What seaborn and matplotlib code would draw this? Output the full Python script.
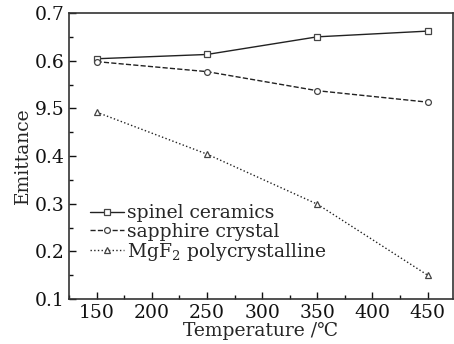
import matplotlib
matplotlib.use('Agg')
import matplotlib.pyplot as plt
import seaborn as sns
import pandas as pd
from matplotlib.ticker import MultipleLocator, FixedLocator, FixedFormatter

temperature = [150, 250, 350, 450]
spinel = [0.604, 0.613, 0.650, 0.662]
sapphire = [0.598, 0.577, 0.537, 0.513]
mgf2 = [0.492, 0.404, 0.299, 0.150]
series_names = ['spinel ceramics', 'sapphire crystal', 'MgF$_2$ polycrystalline']
y_ticks = [0.1, 0.2, 0.3, 0.4, 0.5, 0.6, 0.7]
y_tick_labels = ['0.1', '0.2', '0.3', '0.4', '9.5', '0.6', '0.7']


def main():
    sns.set_style('ticks')
    plt.rcParams['font.family'] = ['DejaVu Serif', 'DejaVu Sans']
    plt.rcParams['mathtext.fontset'] = 'dejavuserif'

    df = pd.DataFrame({
        'Temperature': temperature * 3,
        'Emittance': spinel + sapphire + mgf2,
        'Series': [series_names[0]] * 4 + [series_names[1]] * 4 + [series_names[2]] * 4,
    })

    fig = plt.figure(figsize=(4.54, 3.44), dpi=100)
    ax = fig.add_axes([69 / 454, 1 - 299 / 344, (453 - 69) / 454, (299 - 13) / 344])

    styles = {series_names[0]: ('-', 's'),
              series_names[1]: ('--', 'o'),
              series_names[2]: (':', '^')}
    for name in series_names:
        ls, mk = styles[name]
        sub = df[df['Series'] == name]
        sns.lineplot(data=sub, x='Temperature', y='Emittance', ax=ax,
                     color='#222222', linestyle=ls, linewidth=1.0,
                     marker=mk, markersize=4.2, markerfacecolor='white',
                     markeredgecolor='#444444', markeredgewidth=0.9,
                     label=name)

    ax.set_xlim(125, 473)
    ax.set_ylim(0.1, 0.7)
    ax.xaxis.set_major_locator(MultipleLocator(50))
    ax.xaxis.set_minor_locator(MultipleLocator(25))
    ax.yaxis.set_major_locator(FixedLocator(y_ticks))
    ax.yaxis.set_major_formatter(FixedFormatter(y_tick_labels))
    ax.yaxis.set_minor_locator(MultipleLocator(0.05))
    ax.tick_params(which='both', direction='in', top=False, right=False,
                   labelsize=13.5, colors='#111111')
    ax.tick_params(which='major', length=5, width=1)
    ax.tick_params(which='minor', length=3, width=1)
    for sp in ax.spines.values():
        sp.set_linewidth(1.2)
        sp.set_color('#333333')

    ax.set_xlabel('Temperature /\u2103', fontsize=13.5, labelpad=0)
    ax.set_ylabel('Emittance', fontsize=13.5, labelpad=2)

    ax.legend(loc='lower left', bbox_to_anchor=(0.02, 0.08), frameon=False,
              fontsize=13.5, handlelength=1.8, handletextpad=0.2,
              labelspacing=0.02, borderaxespad=0.3)

    fig.savefig('out.png', dpi=100)


if __name__ == '__main__':
    main()
